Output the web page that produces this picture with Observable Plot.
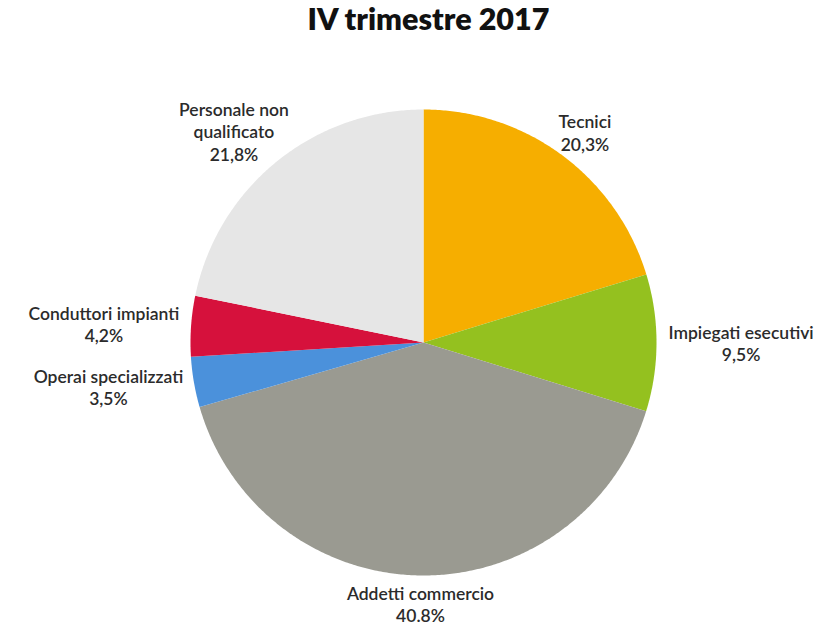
<!DOCTYPE html>
<html>
<head>
<meta charset="utf-8">
<script src="https://cdn.jsdelivr.net/npm/d3@7"></script>
<script src="https://cdn.jsdelivr.net/npm/@observablehq/plot@0.6"></script>
<style>
  body { margin: 0; background: #fff; }
  #title { width: 831px; box-sizing: border-box; padding-left: 26px; height: 64px; line-height: 64px;
           text-align: center; font: 800 30.5px Lato, "Open Sans", sans-serif; color: #111; }
</style>
</head>
<body>
<div id="title">IV trimestre 2017</div>
<div id="chart"></div>
<script>
// ---- data ----
const categories = ["Tecnici", "Impiegati esecutivi", "Addetti commercio", "Operai specializzati", "Conduttori impianti", "Personale non qualificato"];
const labelNames = ["Tecnici", "Impiegati esecutivi", "Addetti commercio", "Operai specializzati", "Conduttori impianti", "Personale non\nqualificato"];
const values = [20.3, 9.5, 40.8, 3.5, 4.2, 21.8];
const valueLabels = ["20,3%", "9,5%", "40.8%", "3,5%", "4,2%", "21,8%"];
const colors = ["#F6AE00", "#94C11F", "#9A9A91", "#4B91DB", "#D6113C", "#E6E6E6"];

// ---- layout ----
const W = 831, H = 565;
const R = 233, CX = 423, CY = 278;
const FONT_SIZE = 17.5, LINE_H = 22.5, GAP_X = 12, GAP_Y = 6;
const fontFamily = "Lato, 'Open Sans', sans-serif";

const total = d3.sum(values);
const slices = [];
const labels = [];
const ctx = document.createElement("canvas").getContext("2d");
ctx.font = `600 ${FONT_SIZE}px Lato, 'Open Sans', sans-serif`;

let acc = 0;
categories.forEach((cat, i) => {
  const a0 = acc / total * 2 * Math.PI;
  acc += values[i];
  const a1 = acc / total * 2 * Math.PI;
  const n = Math.max(2, Math.ceil((a1 - a0) / (Math.PI / 360)));
  slices.push({category: cat, x: 0, y: 0});
  for (let k = 0; k <= n; k++) {
    const a = a0 + (a1 - a0) * k / n;
    slices.push({category: cat, x: Math.sin(a), y: Math.cos(a)});
  }
  slices.push({category: cat, x: 0, y: 0});
  const m = (a0 + a1) / 2;
  const ux = Math.sin(m), uy = Math.cos(m);
  const text = labelNames[i] + "\n" + valueLabels[i];
  const lines = text.split("\n");
  const w = d3.max(lines, l => ctx.measureText(l).width);
  const h = lines.length * LINE_H;
  labels.push({
    text,
    x: ux + ux * (w / 2 + GAP_X) / R,
    y: uy + uy * (h / 2 + GAP_Y) / R
  });
});

const chart = Plot.plot({
  width: W,
  height: H,
  margin: 0,
  x: {domain: [-1, 1], range: [CX - R, CX + R], axis: null},
  y: {domain: [-1, 1], range: [CY + R, CY - R], axis: null},
  color: {domain: categories, range: colors},
  style: {background: "#fff", fontFamily},
  marks: [
    Plot.line(slices, {x: "x", y: "y", z: "category", fill: "category", stroke: "none"}),
    Plot.text(labels, {
      x: "x", y: "y", text: "text",
      fontSize: FONT_SIZE, fontWeight: 600, lineHeight: LINE_H / FONT_SIZE,
      textAnchor: "middle", lineAnchor: "middle", fill: "#2b2b2b"
    })
  ]
});
document.getElementById("chart").appendChild(chart);
</script>
</body>
</html>
